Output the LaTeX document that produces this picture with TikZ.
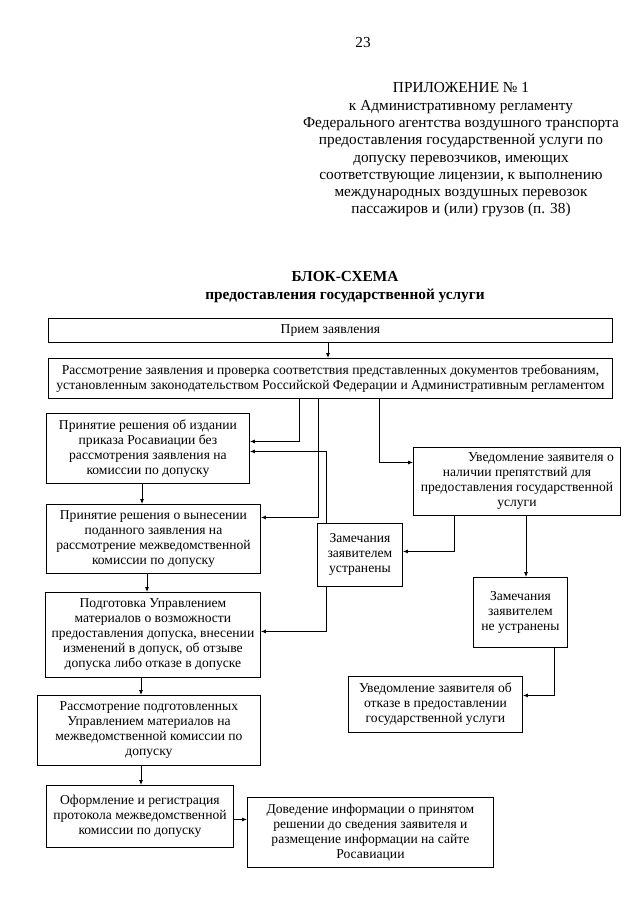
\documentclass[tikz,border=0pt]{standalone}
\usepackage{fontspec}
\setmainfont{Liberation Serif}
\usetikzlibrary{arrows.meta}
\begin{document}
\begin{tikzpicture}[x=1pt,y=-1pt,
  box/.style={draw, line width=0.9pt, inner sep=1pt, align=center, anchor=north west,
    font=\fontsize{13.6}{15}\selectfont},
  arr/.style={line width=0.8pt, -{Latex[length=5pt,width=4pt]}},
  hdr/.style={align=center, font=\fontsize{15.3}{17.3}\selectfont, inner sep=0pt},
  ttl/.style={align=center, font=\fontsize{15.3}{18}\selectfont\bfseries, inner sep=0pt}]
\useasboundingbox (0,0) rectangle (640,905);
\fill[white] (0,0) rectangle (640,905);

% header
\node[hdr] (pg) at (363,43) {23};
\node[hdr] (app) at (461,150) {ПРИЛОЖЕНИЕ № 1\\
к Административному регламенту\\
Федерального агентства воздушного транспорта\\
предоставления государственной услуги по\\
допуску перевозчиков, имеющих\\
соответствующие лицензии, к выполнению\\
международных воздушных перевозок\\
пассажиров и (или) грузов (п. 38)};
\node[ttl] (title) at (345,287) {БЛОК-СХЕМА\\предоставления государственной услуги};

% boxes
\node[box, minimum width=564, minimum height=24] (P) at (48,318) {Прием заявления};
\node[box, minimum width=564, minimum height=40] (R) at (48,358) {Рассмотрение заявления и проверка соответствия представленных документов требованиям,\\установленным законодательством Российской Федерации и Административным регламентом};
\node[box, minimum width=203, minimum height=70] (A) at (46,413) {Принятие решения об издании\\приказа Росавиации без\\рассмотрения заявления на\\комиссии по допуску};
\node[box, minimum width=214, minimum height=69] (B) at (46,504) {Принятие решения о вынесении\\поданного заявления на\\рассмотрение межведомственной\\комиссии по допуску};
\node[box, minimum width=215, minimum height=85] (C) at (45,592) {Подготовка Управлением\\материалов о возможности\\предоставления допуска, внесении\\изменений в допуск, об отзыве\\допуска либо отказе в допуске};
\node[box, minimum width=223, minimum height=70] (D) at (37,695) {Рассмотрение подготовленных\\Управлением материалов на\\межведомственной комиссии по\\допуску};
\node[box, minimum width=187, minimum height=62] (E) at (46,785) {Оформление и регистрация\\протокола межведомственной\\комиссии по допуску};
\node[box, minimum width=246, minimum height=70] (F) at (247,797) {Доведение информации о принятом\\решении до сведения заявителя и\\размещение информации на сайте\\Росавиации};
\node[box, minimum width=207, minimum height=68] (U) at (413,447) {\hspace*{48pt}Уведомление заявителя о\\наличии препятствий для\\предоставления государственной\\услуги};
\node[box, minimum width=85, minimum height=63] (Z1) at (317,523) {Замечания\\заявителем\\устранены};
\node[box, minimum width=94, minimum height=70] (Z2) at (473,577) {Замечания\\заявителем\\не устранены};
\node[box, minimum width=174, minimum height=56] (N) at (348,676) {Уведомление заявителя об\\отказе в предоставлении\\государственной услуги};

% column coordinates
\coordinate (k299) at (299,0);
\coordinate (k318) at (318,0);
\coordinate (k326) at (326,0);
\coordinate (k328) at (328,0);
\coordinate (k379) at (379,0);
\coordinate (k454) at (454,0);
\coordinate (k526) at (526,0);
\coordinate (k554) at (554,0);
\coordinate (k142) at (142,0);
\coordinate (k147) at (147,0);
\coordinate (k141) at (141,0);

% connectors
\draw[arr] (P.south -| k328) -- (R.north -| k328);
\draw[arr] (R.south -| k299) |- ([yshift=7pt]A.east);
\draw[arr] (R.south -| k318) |- ([yshift=21.5pt]B.east);
\draw[arr] (R.south -| k379) |- ([yshift=19pt]U.west);
\draw[arr] (Z1.north -| k326) |- ([yshift=-3pt]A.east);
\draw[arr] (Z1.south -| k326) |- ([yshift=3.5pt]C.east);
\draw[arr] (U.south -| k454) |- ([yshift=3.5pt]Z1.east);
\draw[arr] (U.south -| k526) -- (Z2.north -| k526);
\draw[arr] (Z2.south -| k554) |- ([yshift=9pt]N.east);
\draw[arr] (A.south -| k142) -- (B.north -| k142);
\draw[arr] (B.south -| k147) -- (C.north -| k147);
\draw[arr] (C.south -| k141) -- (D.north -| k141);
\draw[arr] (D.south -| k141) -- (E.north -| k141);
\draw[arr] ([yshift=-3pt]E.east) -- ([yshift=-3pt]E.east -| F.west);
\end{tikzpicture}
\end{document}
